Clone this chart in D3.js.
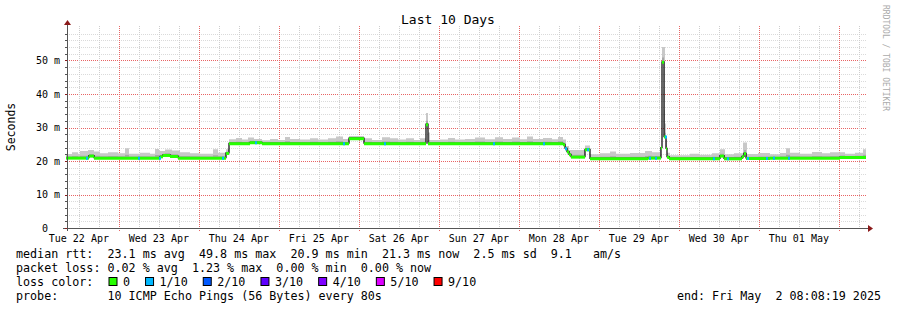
<!DOCTYPE html>
<html>
<head>
<meta charset="utf-8">
<script src="https://cdn.jsdelivr.net/npm/d3@7"></script>
<style>
  html, body { margin: 0; padding: 0; background: #fff; }
  svg text { font-family: "DejaVu Sans Mono", monospace; white-space: pre; }
</style>
</head>
<body>
<div id="chart"></div>
<script>
// hours since the start of the 10-day window and the median rtt (ms) from there on
const medianHours = [0, 6.9, 8.4, 28.2, 29.1, 31.2, 33.6, 48, 48.9, 55.2,
  58.8, 84.9, 89.4, 108, 108.6, 149.1, 149.7, 150.3, 150.9, 151.5,
  155.7, 157.2, 174.6, 178.5, 178.8, 179.4, 180, 180.3, 180.9, 196.2,
  197.4, 202.8, 203.4, 204, 211.2, 232.2];
const medianValues = [21.0, 21.6, 21.0, 21.4, 21.8, 21.5, 21.0, 22.4, 25.3, 25.6,
  25.3, 26.8, 25.3, 31.0, 25.3, 25.0, 23.8, 22.8, 22.0, 21.3,
  23.5, 20.8, 21.0, 24.0, 49.6, 27.3, 23.8, 21.3, 20.8, 21.6,
  20.8, 21.4, 22.3, 20.9, 21.0, 21.2];

// top of the smoke (slowest ping, ms)
const smokeHours = [0, 1.8, 3.6, 4.2, 6.6, 8.4, 10.2, 12.6, 15.6, 17.7,
  18.9, 22.2, 25.2, 26.7, 27.9, 29.7, 31.8, 34.2, 37.2, 40.2,
  44.1, 45.6, 48, 48.9, 51, 52.8, 54.6, 56.4, 58.8, 61.2,
  63.6, 65.7, 67.2, 70.2, 73.2, 75.6, 78.6, 81, 83.1, 84.9,
  89.4, 91.8, 94.8, 97.2, 99.6, 102, 104.4, 106.2, 108, 108.6,
  109.2, 112.2, 114.6, 116.7, 119.7, 122.7, 125.7, 128.7, 131.1, 133.8,
  136.2, 138.3, 140.1, 143.1, 145.8, 147.6, 149.1, 150, 150.9, 151.8,
  155.7, 157.2, 160.2, 163.2, 165, 169.2, 173.7, 175.8, 178.2, 178.8,
  179.7, 180, 180.3, 181.2, 187.2, 190.2, 193.8, 196.2, 197.7, 200.4,
  203.1, 204.3, 207.6, 211.2, 214.2, 216, 217.2, 220.2, 223.8, 226.8,
  229.2, 233.7, 236.7, 239.1];
const smokeTop = [22.1, 22.6, 22.2, 23.0, 23.3, 22.8, 22.3, 22.6, 22.3, 23.8,
  22.2, 22.5, 22.2, 23.6, 23.0, 23.4, 23.1, 22.6, 22.3, 22.2,
  23.5, 22.5, 23.5, 26.5, 26.9, 26.4, 27.0, 26.6, 26.2, 26.6,
  26.3, 27.2, 26.6, 26.4, 26.8, 26.4, 26.8, 27.3, 26.6, 27.5,
  26.8, 26.3, 27.1, 26.8, 26.4, 26.8, 26.3, 26.8, 34.3, 28.5,
  26.3, 26.4, 26.9, 26.4, 26.6, 27.0, 26.5, 27.1, 26.6, 27.0,
  26.5, 27.3, 26.6, 26.9, 26.5, 27.2, 26.4, 24.5, 23.3, 23.3,
  24.6, 22.0, 22.3, 22.8, 22.2, 22.4, 23.0, 22.6, 24.0, 54.0,
  31.2, 26.3, 22.5, 21.7, 22.2, 21.9, 22.3, 23.5, 22.0, 22.3,
  25.5, 22.1, 22.4, 22.0, 22.4, 23.8, 22.5, 22.2, 22.7, 22.3,
  22.6, 22.2, 22.5, 23.5];

// samples where 1 of 10 pings was lost
const lossHours = [6, 21.6, 27.9, 46.8, 56.7, 83.1, 95.4, 128.1, 143.1, 149.7,
  156.3, 174.9, 176.7, 179.7, 194.1, 198.3, 204.3, 210, 212.1, 216.6];

const lossLabels = ['0', '1/10', '2/10', '3/10', '4/10', '5/10', '9/10'];
const lossColors = ['#26ff00', '#00b8ff', '#0059ff', '#5e00ff', '#7e00ff', '#dd00ff', '#ff0000'];

const legendLines = [
  'median rtt:  23.1 ms avg  49.8 ms max  20.9 ms min  21.3 ms now  2.5 ms sd  9.1   am/s',
  'packet loss: 0.02 % avg  1.23 % max  0.00 % min  0.00 % now',
  'loss color:',
  'probe:       10 ICMP Echo Pings (56 Bytes) every 80s'
];
const endText = 'end: Fri May  2 08:08:19 2025';

const width = 897, height = 310;
const plotLeft = 66, plotRight = 866, plotTop = 27, plotBottom = 228;

const start = new Date(2025, 3, 22, 8, 8, 19);
const end = new Date(2025, 4, 2, 8, 8, 19);
const at = h => new Date(start.getTime() + h * 3600e3);

const x = d3.scaleTime().domain([start, end]).range([plotLeft, plotRight]);
const y = d3.scaleLinear().domain([0, 60]).range([plotBottom, plotTop]);

const svg = d3.select('#chart').append('svg')
  .attr('width', width).attr('height', height);

const minorGrid = '#cdcdcd';
const majorGrid = '#e86464';

// grid: minor every 2 ms / 6 h, major every 10 ms / midnight
const grid = svg.append('g').attr('shape-rendering', 'crispEdges');
d3.range(2, 60, 2).forEach(v => {
  grid.append('line')
    .attr('x1', plotLeft + 1).attr('x2', plotRight + 1)
    .attr('y1', Math.round(y(v)) + 0.5).attr('y2', Math.round(y(v)) + 0.5)
    .attr('stroke', v % 10 === 0 ? majorGrid : '#dadada')
    .attr('stroke-dasharray', '1,1');
});
d3.timeHour.every(6).range(start, end).forEach(t => {
  const major = t.getHours() === 0;
  grid.append('line')
    .attr('x1', Math.round(x(t)) + 0.5).attr('x2', Math.round(x(t)) + 0.5)
    .attr('y1', plotTop - 1).attr('y2', plotBottom + (major ? 3 : 2))
    .attr('stroke', major ? majorGrid : minorGrid)
    .attr('stroke-dasharray', '1,1');
});

// merge breakpoints so the smoke can follow both series
const stepAt = (hs, vs, h) => vs[Math.max(0, d3.bisectRight(hs, h) - 1)];
const allHours = Array.from(new Set([...medianHours, ...smokeHours, 240])).sort((a, b) => a - b);
const rows = allHours.map(h => {
  const m = stepAt(medianHours, medianValues, h);
  const s = Math.max(stepAt(smokeHours, smokeTop, h), m);
  return { t: at(h), m, s };
});

svg.append('path')
  .datum(rows)
  .attr('fill', '#c8c8c8')
  .attr('d', d3.area().curve(d3.curveStepAfter)
    .x(d => x(d.t)).y0(d => y(d.m - 0.4)).y1(d => y(d.s)));
svg.append('path')
  .datum(rows)
  .attr('fill', '#a8a8a8')
  .attr('d', d3.area().curve(d3.curveStepAfter)
    .x(d => x(d.t)).y0(d => y(d.m - 0.2)).y1(d => y(d.m + (d.s - d.m) * 0.3)));

// median: black steps under coloured level segments
const med = medianHours.map((h, i) => ({ t: at(h), v: medianValues[i] }));
med.push({ t: end, v: medianValues[medianValues.length - 1] });
svg.append('path')
  .datum(med)
  .attr('fill', 'none')
  .attr('stroke', '#000')
  .attr('stroke-width', 1.2)
  .attr('d', d3.line().curve(d3.curveStepAfter).x(d => x(d.t)).y(d => y(d.v)));

svg.append('g').selectAll('line')
  .data(med.slice(0, -1))
  .join('line')
  .attr('x1', d => x(d.t))
  .attr('x2', (d, i) => x(med[i + 1].t))
  .attr('y1', d => y(d.v) + 0.5)
  .attr('y2', d => y(d.v) + 0.5)
  .attr('stroke', lossColors[0])
  .attr('stroke-width', 3);

svg.append('g').selectAll('line')
  .data(lossHours)
  .join('line')
  .attr('x1', h => x(at(h)))
  .attr('x2', h => x(at(h + 0.6)))
  .attr('y1', h => y(stepAt(medianHours, medianValues, h)) + 0.5)
  .attr('y2', h => y(stepAt(medianHours, medianValues, h)) + 0.5)
  .attr('stroke', lossColors[1])
  .attr('stroke-width', 3);

// axes
const axisColor = '#555555';
const arrowColor = '#8b1a1a';
svg.append('line')
  .attr('x1', plotLeft - 3).attr('x2', plotRight + 3)
  .attr('y1', plotBottom + 0.5).attr('y2', plotBottom + 0.5)
  .attr('stroke', axisColor);
svg.append('line')
  .attr('x1', plotLeft + 1.5).attr('x2', plotLeft + 1.5)
  .attr('y1', plotBottom + 3).attr('y2', plotTop - 3)
  .attr('stroke', axisColor);
svg.append('path')
  .attr('d', `M${plotRight + 2},${plotBottom - 3}L${plotRight + 7},${plotBottom + 0.5}L${plotRight + 2},${plotBottom + 4}Z`)
  .attr('fill', arrowColor);
svg.append('path')
  .attr('d', `M${plotLeft - 2},${plotTop - 2}L${plotLeft + 1.5},${plotTop - 7}L${plotLeft + 5},${plotTop - 2}Z`)
  .attr('fill', arrowColor);

d3.range(0, 60, 2).forEach(v => {
  svg.append('line')
    .attr('x1', plotLeft - 1).attr('x2', plotLeft + 1)
    .attr('y1', Math.round(y(v)) + 0.5).attr('y2', Math.round(y(v)) + 0.5)
    .attr('stroke', v % 10 === 0 ? arrowColor : axisColor);
});

d3.range(0, 60, 10).forEach(v => {
  svg.append('text')
    .attr('x', v === 0 ? 48 : 60)
    .attr('y', y(v) + 3.5)
    .attr('text-anchor', 'end')
    .attr('font-size', 10)
    .attr('fill', '#000')
    .text(v === 0 ? '0' : `${v} m`);
});

const fmt = d3.timeFormat('%a %d %b');
d3.timeDay.range(d3.timeDay.floor(start), end).forEach(d => {
  const noon = d3.timeHour.offset(d, 12);
  if (noon < start || noon > end) return;
  svg.append('text')
    .attr('x', x(noon))
    .attr('y', 242)
    .attr('text-anchor', 'middle')
    .attr('font-size', 10)
    .attr('fill', '#000')
    .text(fmt(noon));
});

// titles
svg.append('text')
  .attr('x', 448).attr('y', 24)
  .attr('text-anchor', 'middle')
  .attr('font-size', 13)
  .text('Last 10 Days');
svg.append('text')
  .attr('transform', 'translate(15,127) rotate(-90)')
  .attr('text-anchor', 'middle')
  .attr('font-size', 11.5)
  .text('Seconds');
svg.append('text')
  .attr('transform', 'translate(883,5) rotate(90)')
  .attr('font-size', 8)
  .attr('fill', '#aaaaaa')
  .text('RRDTOOL / TOBI OETIKER');

// legend
legendLines.forEach((s, i) => {
  svg.append('text')
    .attr('x', 16).attr('y', 258 + i * 14)
    .attr('font-size', 11.7)
    .text(s);
});
svg.append('text')
  .attr('x', 881).attr('y', 300)
  .attr('text-anchor', 'end')
  .attr('font-size', 11.7)
  .text(endText);

let lx = 108.5;
lossLabels.forEach((lab, i) => {
  svg.append('rect')
    .attr('x', lx + 0.5).attr('y', 277.5)
    .attr('width', 8).attr('height', 8)
    .attr('fill', lossColors[i])
    .attr('stroke', '#000');
  svg.append('text')
    .attr('x', lx + 14.5).attr('y', 286)
    .attr('font-size', 11.7)
    .text(lab);
  lx += 14.5 + lab.length * 7.05 + 15;
});
</script>
</body>
</html>
